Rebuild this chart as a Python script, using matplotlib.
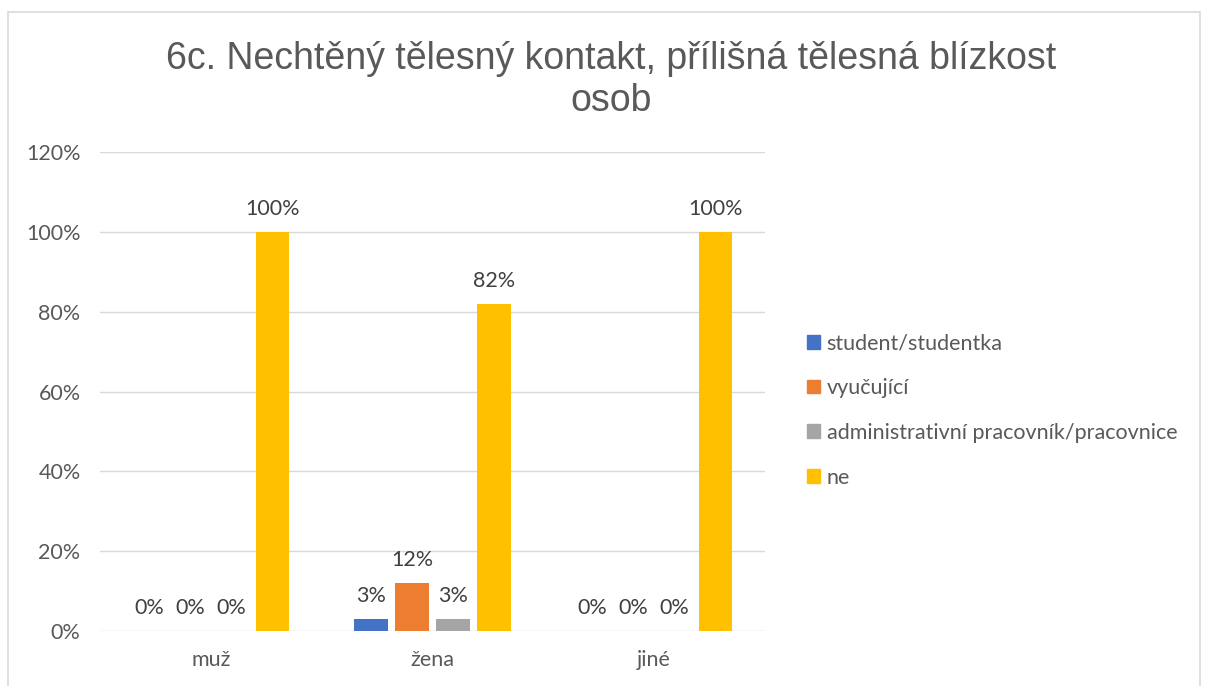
import matplotlib
matplotlib.use("Agg")
import matplotlib.pyplot as plt
import numpy as np
from matplotlib.patches import Rectangle

categories = ["muž", "žena", "jiné"]
series_names = ["student/studentka", "vyučující", "administrativní pracovník/pracovnice", "ne"]
student = [0, 3, 0]
vyucujici = [0, 12, 0]
admin = [0, 3, 0]
ne = [100, 82, 100]
series = [student, vyucujici, admin, ne]
colors = ["#4472C4", "#ED7D31", "#A5A5A5", "#FFC000"]
yticks = [0, 20, 40, 60, 80, 100, 120]

W, H = 1206, 686
fig = plt.figure(figsize=(W/100, H/100), dpi=100)
fig.patches.append(Rectangle((8/W, -0.1), (1200-8)/W, (H-12)/H + 0.1, transform=fig.transFigure,
                             fill=False, edgecolor="#d9d9d9", linewidth=1.2))

ax = fig.add_axes([100/W, 1-631/H, (765-100)/W, (631-152)/H])
tick_font = "Lato"
fs = 15.5
x = np.arange(len(categories))
step = 0.185
bw = 0.15
for i, (vals, c, name) in enumerate(zip(series, colors, series_names)):
    pos = x + (i - 1.5) * step
    ax.bar(pos, vals, width=bw, color=c, label=name, zorder=3)
    for p, v in zip(pos, vals):
        ax.text(p, v + 3.3, f"{v}%", ha="center", va="bottom", fontsize=fs,
                color="#404040", family=tick_font)

ax.set_xlim(-0.5, 2.5)
ax.set_ylim(0, 120)
ax.set_yticks(yticks)
ax.set_yticklabels([f"{t}%" for t in yticks], fontsize=fs, color="#595959", family=tick_font)
ax.set_xticks(x)
ax.set_xticklabels(categories, fontsize=fs, color="#595959", family=tick_font)
ax.grid(axis="y", color="#d9d9d9", linewidth=1, zorder=0)
for s in ["top", "right", "left", "bottom"]:
    ax.spines[s].set_visible(False)
ax.tick_params(axis="both", length=0)
ax.tick_params(axis="x", pad=14)
ax.tick_params(axis="y", pad=14)

fig.text(611/W, 1-80/H, "6c. Nechtěný tělesný kontakt, přílišná tělesná blízkost\nosob",
         ha="center", va="center", fontsize=27, color="#595959", family="Liberation Sans",
         linespacing=1.22)

handles = [Rectangle((0, 0), 1, 1, color=c) for c in colors]
leg = fig.legend(handles, series_names, loc="upper left", bbox_to_anchor=(788/W, 1-314/H),
                 frameon=False, handlelength=0.6, handleheight=0.6,
                 handletextpad=0.3, labelspacing=1.15, labelcolor="#595959",
                 prop={"family": tick_font, "size": 15.5})
fig.savefig("out.png", dpi=100)
